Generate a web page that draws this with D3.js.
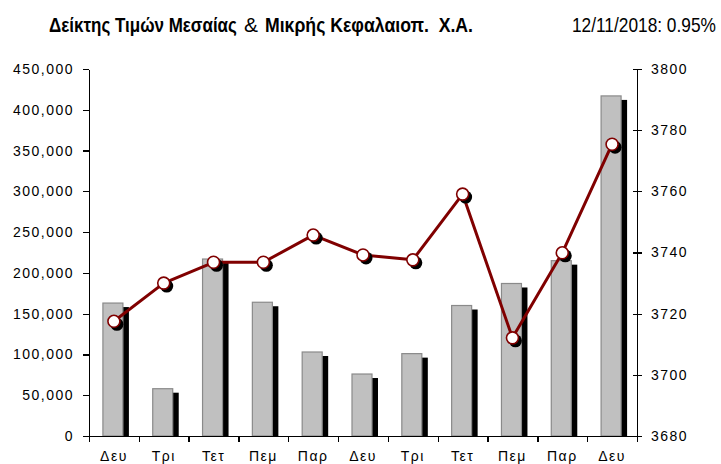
<!DOCTYPE html>
<html>
<head>
<meta charset="utf-8">
<script src="https://cdn.jsdelivr.net/npm/d3@7"></script>
<style>
  body { margin: 0; background: #fff; }
  svg { display: block; }
  .axis text { font-family: "Liberation Sans", Arial, sans-serif; font-size: 14px; fill: #000; letter-spacing: 1.5px; }
  .axis path, .axis line { stroke: #000; stroke-width: 1.3; shape-rendering: crispEdges; }
  .title { font-family: "Liberation Sans", Arial, sans-serif; font-size: 20px; fill: #000; white-space: pre; }
</style>
</head>
<body>
<div id="chart"></div>
<script>
// Data
const days = ['Δευ', 'Τρι', 'Τετ', 'Πεμ', 'Παρ', 'Δευ', 'Τρι', 'Τετ', 'Πεμ', 'Παρ', 'Δευ'];
const volume = [163000, 58000, 217000, 164000, 103000, 76000, 101000, 160000, 187000, 215000, 417000];
const indexValues = [3717.5, 3730.0, 3736.8, 3736.8, 3745.7, 3739.2, 3737.6, 3759.1, 3712.1, 3739.9, 3775.4];
const leftTicks = [0, 50000, 100000, 150000, 200000, 250000, 300000, 350000, 400000, 450000];
const rightTicks = [3680, 3700, 3720, 3740, 3760, 3780, 3800];
const titleParts = ['Δείκτης Τιμών Μεσαίας', '&', 'Μικρής Κεφαλαιοπ.  Χ.Α.', '12/11/2018: 0.95%'];

const width = 721;
const height = 464;
const plot = { left: 89, right: 637, top: 69, bottom: 436 };

const svg = d3.select('#chart').append('svg')
  .attr('width', width)
  .attr('height', height);

const x = d3.scaleBand()
  .domain(d3.range(days.length))
  .range([plot.left, plot.right])
  .padding(0);
const xEdge = d3.scaleLinear()
  .domain([0, days.length])
  .range([plot.left, plot.right]);
const yL = d3.scaleLinear().domain([0, 450000]).range([plot.bottom, plot.top]);
const yR = d3.scaleLinear().domain([3680, 3800]).range([plot.bottom, plot.top]);

// title pieces: narrow look by measuring and squeezing horizontally
const titleLayout = [
  { x: 49, len: 188, weight: 'bold' },
  { x: 244, len: 14, weight: 'normal' },
  { x: 265, len: 208, weight: 'bold' },
  { x: 572, len: 144, weight: 'normal' }
];
titleParts.forEach((t, i) => {
  const el = svg.append('text')
    .attr('class', 'title')
    .style('font-weight', titleLayout[i].weight)
    .text(t);
  const natural = el.node().getComputedTextLength();
  const sx = titleLayout[i].len / natural;
  el.attr('transform', 'translate(' + titleLayout[i].x + ',32) scale(' + sx + ',1)');
});

// bars: black shadow first, then grey bar
const barW = 20;
const bars = svg.append('g').attr('class', 'bars');
bars.selectAll('rect.shadow')
  .data(volume)
  .enter()
  .append('rect')
  .attr('class', 'shadow')
  .attr('x', (d, i) => x(i) + x.bandwidth() / 2 - 5)
  .attr('y', d => yL(d) + 4)
  .attr('width', barW)
  .attr('height', d => Math.max(0, plot.bottom - yL(d) - 4))
  .attr('fill', '#000');
bars.selectAll('rect.bar')
  .data(volume)
  .enter()
  .append('rect')
  .attr('class', 'bar')
  .attr('x', (d, i) => x(i) + x.bandwidth() / 2 - 11)
  .attr('y', d => yL(d))
  .attr('width', barW)
  .attr('height', d => plot.bottom - yL(d))
  .attr('fill', '#c0c0c0')
  .attr('stroke', '#8a8a8a')
  .attr('stroke-width', 1.2);

// axes
svg.append('g')
  .attr('class', 'y axis left')
  .attr('transform', 'translate(' + plot.left + ',0)')
  .call(d3.axisLeft(yL).tickValues(leftTicks).tickFormat(d3.format(',')).tickSizeInner(6).tickSizeOuter(0).tickPadding(9));

const rightAxis = svg.append('g')
  .attr('class', 'y axis right')
  .attr('transform', 'translate(' + plot.right + ',0)')
  .call(d3.axisRight(yR).tickValues(rightTicks).tickFormat(d3.format('d')).tickSizeInner(5).tickSizeOuter(0).tickPadding(9));
rightAxis.selectAll('.tick line').attr('x1', -4);

svg.append('g')
  .attr('class', 'x axis edges')
  .attr('transform', 'translate(0,' + plot.bottom + ')')
  .call(d3.axisBottom(xEdge).tickValues(d3.range(days.length + 1)).tickFormat('').tickSizeInner(6).tickSizeOuter(0));

const xAxis = svg.append('g')
  .attr('class', 'x axis labels')
  .attr('transform', 'translate(0,' + plot.bottom + ')')
  .call(d3.axisBottom(x).tickFormat(i => days[i]).tickSize(0).tickPadding(15));
xAxis.select('.domain').remove();
xAxis.selectAll('text').attr('dy', '0.71em');

// line with markers
const line = d3.line()
  .x((d, i) => x(i) + x.bandwidth() / 2)
  .y(d => yR(d));

svg.append('path')
  .datum(indexValues)
  .attr('fill', 'none')
  .attr('stroke', '#800000')
  .attr('stroke-width', 3)
  .attr('stroke-linejoin', 'round')
  .attr('d', line);

const markers = svg.append('g').attr('class', 'markers');
markers.selectAll('circle.shadow')
  .data(indexValues)
  .enter()
  .append('circle')
  .attr('class', 'shadow')
  .attr('cx', (d, i) => x(i) + x.bandwidth() / 2 + 3)
  .attr('cy', d => yR(d) + 3)
  .attr('r', 6.5)
  .attr('fill', '#000');
markers.selectAll('circle.dot')
  .data(indexValues)
  .enter()
  .append('circle')
  .attr('class', 'dot')
  .attr('cx', (d, i) => x(i) + x.bandwidth() / 2)
  .attr('cy', d => yR(d))
  .attr('r', 6)
  .attr('fill', '#fff')
  .attr('stroke', '#800000')
  .attr('stroke-width', 1.6);
</script>
</body>
</html>
